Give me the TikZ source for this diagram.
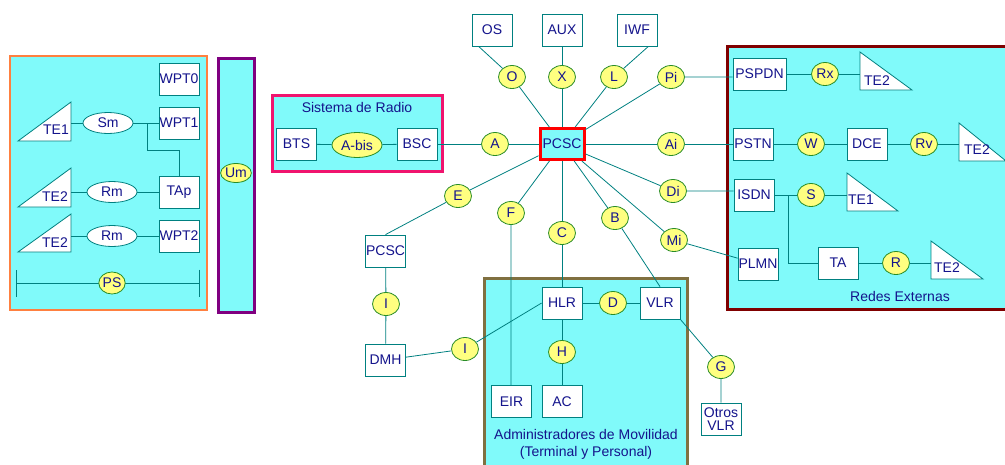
\documentclass[tikz,border=0pt]{standalone}
\usepackage{fontspec}
\setmainfont{Liberation Sans}
\usepackage{tikz}
\usetikzlibrary{shapes.geometric,arrows.meta,positioning,calc}
\definecolor{netCyan}{RGB}{128,250,250}
\definecolor{netLine}{RGB}{0,128,128}
\definecolor{netText}{RGB}{20,20,140}
\definecolor{netYellow}{RGB}{255,255,128}
\definecolor{netGreen}{RGB}{40,140,40}
\definecolor{netOrange}{RGB}{255,128,64}
\definecolor{netPurple}{RGB}{128,0,128}
\definecolor{netPink}{RGB}{240,20,110}
\definecolor{netMaroon}{RGB}{128,0,0}
\definecolor{netOlive}{RGB}{128,112,64}

\begin{document}
\begin{tikzpicture}[x=1pt,y=-1pt,
    every node/.style={font=\fontsize{14}{15}\selectfont,text=netText},
    box/.style={draw=netLine,fill=white,line width=0.8pt,minimum width=40,minimum height=32,inner sep=0pt},
    ifc/.style={ellipse,draw=netGreen,fill=netYellow,line width=0.8pt,minimum width=27,minimum height=23,inner sep=0pt},
    oval/.style={ellipse,draw=netLine,fill=white,line width=0.8pt,minimum width=50,minimum height=21,inner sep=0pt},
    term/.style={draw=netLine,fill=white,line width=0.8pt},
    link/.style={draw=netLine,line width=0.8pt}]
  \useasboundingbox (0,0) rectangle (1005,464);
  % Panels
  \draw[netOrange,line width=2pt,fill=netCyan] (10,56) rectangle (207,310);
  \draw[netPurple,line width=3pt,fill=netCyan] (218,58) rectangle (254,312);
  \draw[netPink,line width=3pt,fill=netCyan] (272,95) rectangle (442,171);
  \draw[netMaroon,line width=3pt,fill=netCyan] (727,46) rectangle (1020,309);
  \draw[netOlive,line width=3pt,fill=netCyan] (484,278) rectangle (687,480);

  % Terminals (left)
  \node[box] (wpt0) at (179,79) {WPT0};
  \node[box] (wpt1) at (179,123) {WPT1};
  \node[box] (tap) at (179,192) {TAp};
  \node[box] (wpt2) at (179,236) {WPT2};
  \node[oval] (sm) at (108,123) {Sm};
  \node[oval] (rm1) at (112,192) {Rm};
  \node[oval] (rm2) at (112,236) {Rm};
  \draw[term] (18,141) -- (71,141) -- (71,102) -- cycle;
  \node (te1l) at (56,130) {TE1};
  \coordinate (te1lc) at (71,123);
  \draw[term] (18,207) -- (71,207) -- (71,168) -- cycle;
  \node (te2l) at (55,197) {TE2};
  \coordinate (te2lc) at (71,192);
  \draw[term] (18,252) -- (71,252) -- (71,214) -- cycle;
  \node (te3l) at (55,243) {TE2};
  \coordinate (te3lc) at (71,236);
  \coordinate (smbr) at (147,123);
  \draw[link] (te1lc) -- (sm) -- (wpt1);
  \draw[link] (smbr) -- ++(0,27) -| (tap.north);
  \draw[link] (te2lc) -- (rm1) -- (tap);
  \draw[link] (te3lc) -- (rm2) -- (wpt2);
  \coordinate (psl) at (16,283);
  \coordinate (psr) at (200,283);
  \draw[link,{Bar[width=27pt]}-{Bar[width=27pt]}] (psl) -- (psr);
  \node[ifc,minimum width=25,minimum height=22] (ps) at (112,283) {PS};
  \node[ifc,minimum width=27,minimum height=19] (um) at (236,173) {Um};

  % Radio
  \node (radio) at (357,107) {Sistema de Radio};
  \node[box] (bts) at (296.5,144) {BTS};
  \node[ifc,minimum width=50,minimum height=25] (abis) at (357,145) {A-bis};
  \node[box] (bsc) at (417,144) {BSC};
  \node[ifc] (a) at (495,144) {A};

  % Switching centre
  \node[box,fill=netCyan,draw=red,line width=3pt,minimum width=44,minimum height=31] (pcsc) at (562,144) {PCSC};
  \node[box] (os) at (492,30) {OS};
  \node[box] (aux) at (562,30) {AUX};
  \node[box] (iwf) at (637,30) {IWF};
  \node[ifc] (o) at (512,77) {O};
  \node[ifc] (x) at (562,77) {X};
  \node[ifc] (l) at (614,77) {L};
  \node[ifc] (pi) at (671,77) {Pi};
  \node[ifc] (ai) at (671,144) {Ai};
  \node[ifc] (di) at (673,191) {Di};
  \node[ifc] (mi) at (674,240) {Mi};
  \node[ifc] (e) at (458,196) {E};
  \node[ifc] (f) at (511,213) {F};
  \node[ifc] (c) at (562,233) {C};
  \node[ifc] (b) at (615,218) {B};
  \node[box] (pcscb) at (385.5,251) {PCSC};
  \node[ifc] (i1) at (386,304) {I};
  \node[box] (dmh) at (385.5,360) {DMH};
  \node[ifc] (i2) at (465,349) {I};

  % Mobility
  \node[box] (hlr) at (562,303) {HLR};
  \node[ifc] (d) at (613,303) {D};
  \node[box] (vlr) at (660,303) {VLR};
  \node[ifc] (h) at (562,352) {H};
  \node[box] (eir) at (511.5,401.5) {EIR};
  \node[box] (ac) at (562,401.5) {AC};
  \node[ifc] (g) at (721,367) {G};
  \node[box,align=center,font=\fontsize{14}{13.5}\selectfont] (otros) at (721,419) {Otros\\VLR};
  \node[align=center,font=\fontsize{14}{17}\selectfont] (movil) at (586,444.5) {Administradores de Movilidad\\(Terminal y Personal)};

  % External networks
  \node[box,minimum width=53] (pspdn) at (759.5,74) {PSPDN};
  \node[ifc] (rx) at (825,74) {Rx};
  \draw[term] (860,52) -- (860,90) -- (912,90) -- cycle;
  \node (te2a) at (877,81) {TE2};
  \coordinate (te2ac) at (860,74);
  \node[box] (pstn) at (753,144) {PSTN};
  \node[ifc] (w) at (811,144) {W};
  \node[box] (dce) at (867,144) {DCE};
  \node[ifc] (rv) at (924,144) {Rv};
  \draw[term] (959,123) -- (959,161) -- (1006,161) -- cycle;
  \node (te2b) at (977,150) {TE2};
  \coordinate (te2bc) at (959,144);
  \node[box] (isdn) at (754,195) {ISDN};
  \node[ifc] (s) at (811,195) {S};
  \draw[term] (847,173) -- (847,211) -- (898,211) -- cycle;
  \node (te1r) at (861,200) {TE1};
  \coordinate (te1rc) at (847,195);
  \node[box] (ta) at (838,263) {TA};
  \node[ifc] (r) at (896,263) {R};
  \draw[term] (931,241) -- (931,279) -- (983,279) -- cycle;
  \node (te2c) at (947,268) {TE2};
  \coordinate (te2cc) at (931,263);
  \node[box] (plmn) at (758,264) {PLMN};
  \node (redes) at (900,296) {Redes Externas};
  \coordinate (isbr) at (788,195);

  % Connectors
  \draw[link] (bts) -- (abis) -- (bsc);
  \draw[link] (bsc) -- (a) -- (pcsc);
  \draw[link] ($(os.south west)+(7,0)$) -- (o) -- (pcsc);
  \draw[link] (aux) -- (x) -- (pcsc);
  \draw[link] ($(iwf.south east)+(-9,0)$) -- (l) -- (pcsc);
  \draw[link] (pspdn.west |- pi) -- (pi) -- (pcsc);
  \draw[link] (pstn) -- (ai) -- (pcsc);
  \draw[link] (isdn.west |- di) -- (di) -- (pcsc);
  \draw[link] (plmn) -- (mi) -- (pcsc);
  \draw[link] (pcscb.north) -- (e) -- (pcsc);
  \draw[link] (eir.north -| f) -- (f) -- (pcsc);
  \draw[link] (hlr) -- (c) -- (pcsc);
  \draw[link] (vlr.north) -- (b) -- (pcsc);
  \draw[link] (pcscb) -- (i1) -- (dmh);
  \draw[link] (dmh) -- (i2) -- (hlr.west);
  \draw[link] (hlr) -- (d) -- (vlr);
  \draw[link] (hlr) -- (h) -- (ac);
  \draw[link] (vlr.south east) -- (g) -- (otros);
  \draw[link] (pspdn) -- (rx) -- (te2ac);
  \draw[link] (pstn) -- (w) -- (dce) -- (rv) -- (te2bc);
  \draw[link] (isdn) -- (s) -- (te1rc);
  \draw[link] (isbr) |- (ta.west);
  \draw[link] (ta) -- (r) -- (te2cc);
\end{tikzpicture}
\end{document}
